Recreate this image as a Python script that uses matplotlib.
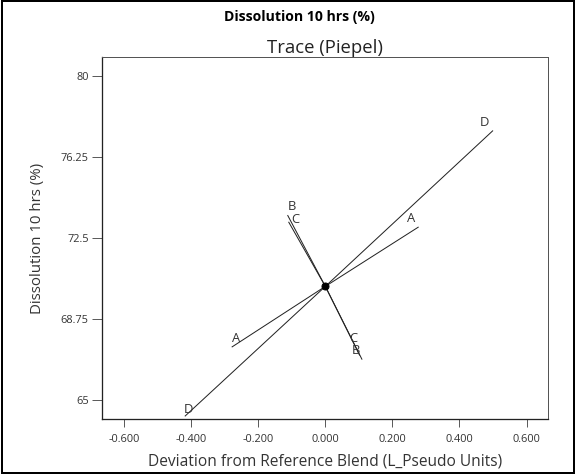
import matplotlib
matplotlib.use('Agg')
import matplotlib.pyplot as plt
from matplotlib.patches import Rectangle

plt.rcParams['font.family'] = ['Open Sans', 'DejaVu Sans']

# Trace endpoints (deviation, response) for each component
components = ['A', 'B', 'C', 'D']
x_low = [-0.278, 0.109, 0.102, -0.418]
y_low = [67.46, 66.89, 67.08, 64.26]
x_high = [0.277, -0.112, -0.109, 0.499]
y_high = [73.00, 73.54, 73.23, 77.46]

# Reference blend
x_ref = 0.0
y_ref = 70.26

xticks = [-0.6, -0.4, -0.2, 0.0, 0.2, 0.4, 0.6]
yticks = [65, 68.75, 72.5, 76.25, 80]
ytick_labels = ['65', '68.75', '72.5', '76.25', '80']

# label offsets in points (low end, high end)
off_low = [(4, 8), (-6, 9), (-6, 17), (3, 6)]
off_high = [(-7, 9), (4, 9), (7, 3), (-8, 8)]

fig = plt.figure(figsize=(8, 474 / 72), dpi=72)
ax = fig.add_axes([101.7 / 576, 55 / 474, 446.6 / 576, 362 / 474])

for i, name in enumerate(components):
    ax.plot([x_low[i], x_ref, x_high[i]], [y_low[i], y_ref, y_high[i]],
            color='#222222', lw=1.0)
    ax.annotate(name, (x_low[i], y_low[i]), xytext=off_low[i],
                textcoords='offset points', ha='center', va='center',
                fontsize=13, color='#333333')
    ax.annotate(name, (x_high[i], y_high[i]), xytext=off_high[i],
                textcoords='offset points', ha='center', va='center',
                fontsize=13, color='#333333')

ax.plot([x_ref], [y_ref], 'o', color='black', markersize=7)

ax.set_xlim(-0.667, 0.665)
ax.set_ylim(64.12, 80.88)
ax.set_xticks(xticks)
ax.set_xticklabels(['%.3f' % v for v in xticks])
ax.set_yticks(yticks)
ax.set_yticklabels(ytick_labels)
ax.tick_params(axis='both', direction='out', labelsize=11,
               labelcolor='#333333', color='#333333')
ax.tick_params(axis='x', length=8, pad=7)
ax.tick_params(axis='y', length=10, pad=3)
for s in ['left', 'bottom']:
    ax.spines[s].set_linewidth(1.3)
    ax.spines[s].set_color('#222222')
for s in ['right', 'top']:
    ax.spines[s].set_linewidth(1.0)
    ax.spines[s].set_color('#555555')

ax.set_xlabel('Deviation from Reference Blend (L_Pseudo Units)', fontsize=15.5,
              color='#333333', labelpad=8)
ax.set_ylabel('Dissolution 10 hrs (%)', fontsize=15, color='#333333', labelpad=16)
ax.set_title('Trace (Piepel)', fontsize=18.5, color='#222222', pad=3)
fig.text(299 / 576, 1 - 17 / 474, 'Dissolution 10 hrs (%)', ha='center', va='center',
         fontsize=14, fontweight='bold', color='black')

fig.patches.append(Rectangle((0.003, 0.003), 0.994, 0.994, transform=fig.transFigure,
                             fill=False, edgecolor='black', lw=2))

fig.savefig('out.png', dpi=72)
